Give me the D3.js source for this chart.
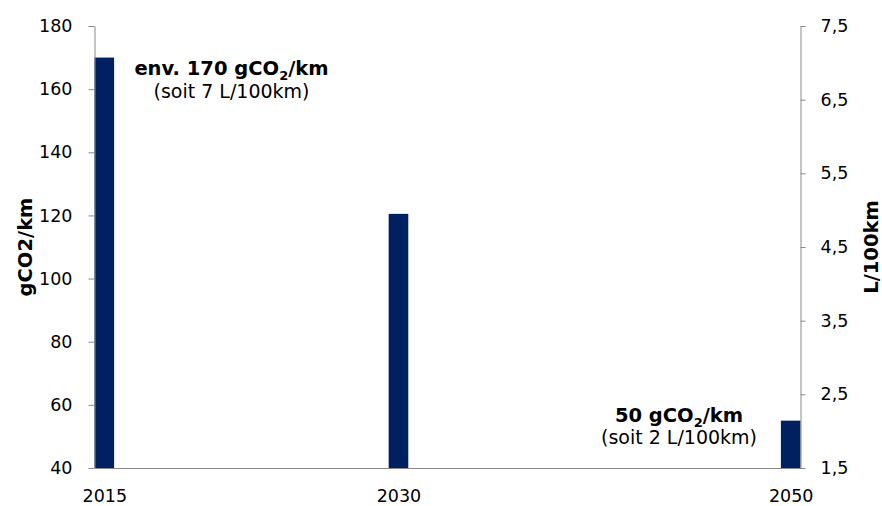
<!DOCTYPE html>
<html>
<head>
<meta charset="utf-8">
<script src="https://cdn.jsdelivr.net/npm/d3@7"></script>
<style>
  html, body { margin: 0; padding: 0; background: #fff; }
  svg { display: block; }
  svg text { font-family: "DejaVu Sans", Verdana, sans-serif; }
</style>
</head>
<body>
<svg id="chart" width="882" height="506"></svg>
<script>
// ---- data ----
const years = [2015, 2030, 2050];
const co2Values = [170, 120.5, 55];
const leftTicks = [40, 60, 80, 100, 120, 140, 160, 180];
const rightTicks = [1.5, 2.5, 3.5, 4.5, 5.5, 6.5, 7.5];
const leftTitle = "gCO2/km";
const rightTitle = "L/100km";

// ---- layout ----
const plot = { left: 94.5, right: 800.5, top: 26, bottom: 468 };
const axisColor = "#898989";
const barColor = "#002060";

const svg = d3.select("#chart");

const x = d3.scaleLinear().domain([2014.5, 2050.5]).range([plot.left, plot.right]);
const yL = d3.scaleLinear().domain([40, 180]).range([plot.bottom, plot.top]);
const yR = d3.scaleLinear().domain([1.5, 7.5]).range([plot.bottom, plot.top]);

// bars
svg.append("g").selectAll("rect")
  .data(years.map((yr, i) => ({ yr, v: co2Values[i] })))
  .join("rect")
  .attr("x", d => x(d.yr - 0.5))
  .attr("width", d => x(d.yr + 0.5) - x(d.yr - 0.5))
  .attr("y", d => yL(d.v))
  .attr("height", d => yL(40) - yL(d.v))
  .attr("fill", barColor);

function styleAxis(g, size) {
  g.attr("font-family", null).attr("font-size", null);
  g.selectAll("path.domain").attr("stroke", axisColor);
  g.selectAll(".tick line").attr("stroke", axisColor);
  g.selectAll(".tick text").attr("fill", "#000").style("font-size", size + "px");
}

// left axis
const gL = svg.append("g").attr("transform", `translate(${plot.left},0)`)
  .call(d3.axisLeft(yL).tickValues(leftTicks).tickSize(6).tickSizeOuter(0).tickPadding(16).tickFormat(d3.format("d")));
styleAxis(gL, 17.5);

// right axis
const fmtComma = d => d.toFixed(1).replace(".", ",");
const gR = svg.append("g").attr("transform", `translate(${plot.right},0)`)
  .call(d3.axisRight(yR).tickValues(rightTicks).tickSize(5).tickSizeOuter(0).tickPadding(15).tickFormat(fmtComma));
styleAxis(gR, 17.5);

// bottom axis
const gB = svg.append("g").attr("transform", `translate(0,${plot.bottom})`)
  .call(d3.axisBottom(x).tickValues(years).tickSize(0).tickSizeOuter(0).tickPadding(22).tickFormat(d3.format("d")));
styleAxis(gB, 17.5);

// axis titles
svg.append("text")
  .attr("transform", `translate(31.5,${(plot.top + plot.bottom) / 2}) rotate(-90)`)
  .attr("text-anchor", "middle")
  .style("font-weight", "bold").style("font-size", "19.5px")
  .text(leftTitle);
svg.append("text")
  .attr("transform", `translate(878,${(plot.top + plot.bottom) / 2}) rotate(-90)`)
  .attr("text-anchor", "middle")
  .style("font-weight", "bold").style("font-size", "19.5px")
  .text(rightTitle);

// annotations
function annotate(cx, y1, y2, pre, post, sub) {
  const t = svg.append("text").attr("x", cx).attr("y", y1)
    .attr("text-anchor", "middle").style("font-weight", "bold").style("font-size", "19.5px");
  t.append("tspan").text(pre);
  t.append("tspan").attr("dy", 5).style("font-size", "13px").text("2");
  t.append("tspan").attr("dy", -5).text(post);
  svg.append("text").attr("x", cx).attr("y", y2)
    .attr("text-anchor", "middle").style("font-size", "19px").text(sub);
}
annotate(231.5, 75, 98, "env. 170 gCO", "/km", "(soit 7 L/100km)");
annotate(679, 422, 444, "50 gCO", "/km", "(soit 2 L/100km)");
</script>
</body>
</html>
